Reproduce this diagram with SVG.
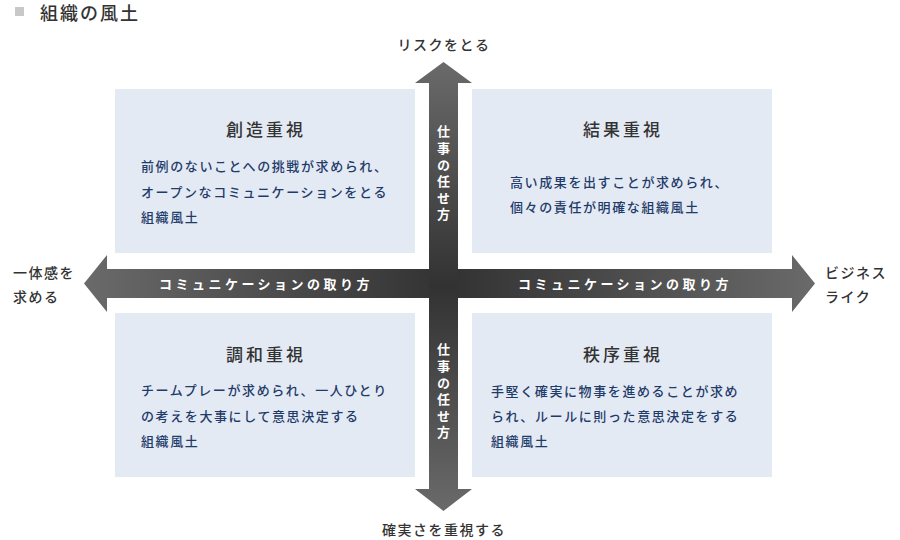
<svg xmlns="http://www.w3.org/2000/svg" width="900" height="540" viewBox="0 0 900 540">
<style>
text{font-family:"Noto Sans CJK JP","Noto Sans",sans-serif}
.box{fill:#e4eaf3}
.ttl{font-size:17px;fill:#333;text-anchor:middle;letter-spacing:3px;font-weight:500}
.body{font-size:13px;fill:#1e3b6a;letter-spacing:1.6px;font-weight:500}
.axis{font-size:14px;fill:#333;letter-spacing:1.5px;font-weight:500}
.shaft{font-size:13px;fill:#fff;font-weight:bold;letter-spacing:3.5px;text-anchor:middle}
.vt{font-size:13px;fill:#fff;font-weight:bold;writing-mode:vertical-rl;letter-spacing:3.6px}
</style>
<defs>
<linearGradient id="gh" gradientUnits="userSpaceOnUse" x1="84" y1="0" x2="815" y2="0">
<stop offset="0" stop-color="#6a6a6a"/><stop offset="0.5" stop-color="#323232"/><stop offset="1" stop-color="#6a6a6a"/>
</linearGradient>
<linearGradient id="gv" gradientUnits="userSpaceOnUse" x1="0" y1="62" x2="0" y2="511">
<stop offset="0" stop-color="#6a6a6a"/><stop offset="0.5" stop-color="#323232"/><stop offset="1" stop-color="#6a6a6a"/>
</linearGradient>
</defs>
<rect width="900" height="540" fill="#fff"/>
<g id="header">
<rect x="15" y="7" width="9" height="9" fill="#c8c8c8"/>
<text x="40" y="20" font-size="18" fill="#333" letter-spacing="2" font-weight="500">組織の風土</text>
</g>
<g id="q-creative">
<rect class="box" x="115" y="89" width="300" height="164"/>
<text class="ttl" x="266" y="136">創造重視</text>
<text class="body" x="141" y="171">前例のないことへの挑戦が求められ、</text>
<text class="body" x="141" y="197">オープンなコミュニケーションをとる</text>
<text class="body" x="141" y="222">組織風土</text>
</g>
<g id="q-result">
<rect class="box" x="472" y="89" width="300" height="164"/>
<text class="ttl" x="623" y="136">結果重視</text>
<text class="body" x="510" y="187">高い成果を出すことが求められ、</text>
<text class="body" x="510" y="212">個々の責任が明確な組織風土</text>
</g>
<g id="q-harmony">
<rect class="box" x="115" y="313" width="300" height="164"/>
<text class="ttl" x="266" y="361">調和重視</text>
<text class="body" x="141" y="395">チームプレーが求められ、一人ひとり</text>
<text class="body" x="141" y="421">の考えを大事にして意思決定する</text>
<text class="body" x="141" y="446">組織風土</text>
</g>
<g id="q-order">
<rect class="box" x="472" y="313" width="300" height="164"/>
<text class="ttl" x="623" y="361">秩序重視</text>
<text class="body" x="491" y="396">手堅く確実に物事を進めることが求め</text>
<text class="body" x="491" y="421">られ、ルールに則った意思決定をする</text>
<text class="body" x="491" y="446">組織風土</text>
</g>
<g id="connectors">
<polygon fill="url(#gh)" points="84,283.5 107,255 107,269 792,269 792,255 815,283.5 792,312 792,298 107,298 107,312"/>
<polygon fill="url(#gv)" points="443.5,62 472,83 458,83 458,489 472,489 443.5,511 415,489 429,489 429,83 415,83"/>
<text class="shaft" x="266" y="289">コミュニケーションの取り方</text>
<text class="shaft" x="625" y="289">コミュニケーションの取り方</text>
<text class="vt" x="443.5" y="125">仕事の任せ方</text>
<text class="vt" x="443.5" y="343">仕事の任せ方</text>
</g>
<g id="labels">
<text class="axis" x="444" y="50" text-anchor="middle">リスクをとる</text>
<text class="axis" x="444" y="535" text-anchor="middle" letter-spacing="2">確実さを重視する</text>
<text class="axis" x="13" y="278">一体感を</text>
<text class="axis" x="13" y="302">求める</text>
<text class="axis" x="825" y="278">ビジネス</text>
<text class="axis" x="825" y="302">ライク</text>
</g>
</svg>
